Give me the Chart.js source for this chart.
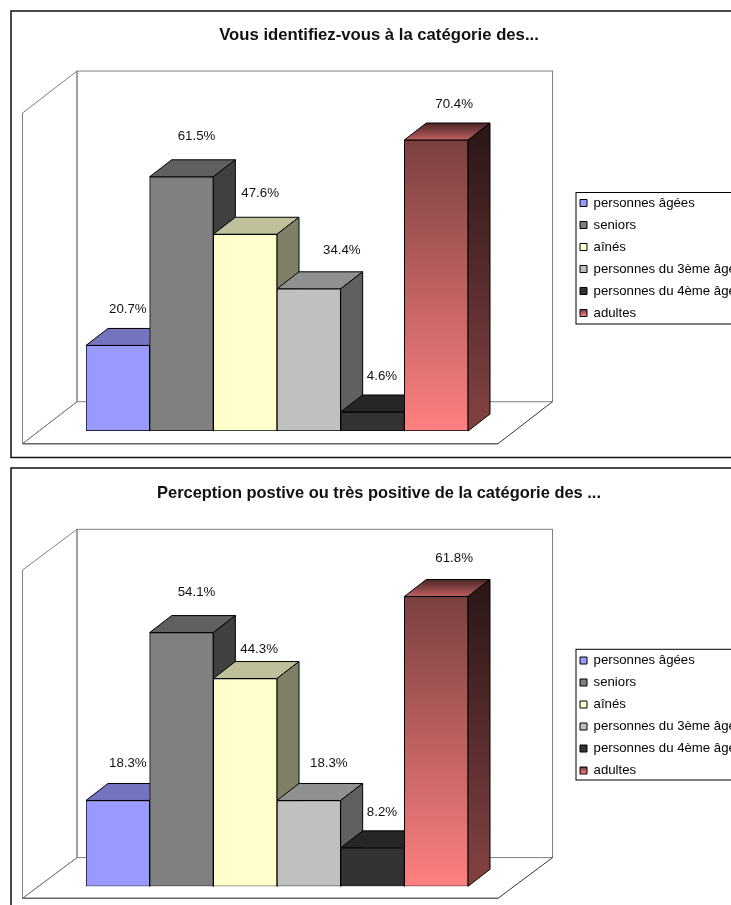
<!DOCTYPE html>
<html lang="fr">
<head>
<meta charset="utf-8">
<title>Catégories d'âge</title>
<script src="https://cdn.jsdelivr.net/npm/chart.js@4/dist/chart.umd.min.js"></script>
<style>
  html, body { margin: 0; padding: 0; background: #fff; width: 731px; height: 905px; overflow: hidden; }
  canvas { position: absolute; left: 0; }
  #identification { top: 0; }
  #perception { top: 462px; }
</style>
</head>
<body>
<canvas id="identification" width="760" height="462"></canvas>
<canvas id="perception" width="760" height="443"></canvas>
<script>
// Survey results
const categories = ['personnes âgées', 'seniors', 'aînés', 'personnes du 3ème âge', 'personnes du 4ème âge', 'adultes'];
const identificationValues = [20.7, 61.5, 47.6, 34.4, 4.6, 70.4];
const perceptionValues = [18.3, 54.1, 44.3, 18.3, 8.2, 61.8];
const identificationTitle = 'Vous identifiez-vous à la catégorie des...';
const perceptionTitle = 'Perception postive ou très positive de la catégorie des ...';

// Face colours per category; a pair is a vertical gradient [upper, lower]
const frontColors = ['#9999FF', '#808080', '#FFFFCC', '#C0C0C0', '#333333', ['#7A4040', '#FF8080']];
const topColors = ['#7373BF', '#606060', '#BFBF99', '#909090', '#262626', ['#4A2626', '#BF6060']];
const sideColors = ['#4D4D80', '#404040', '#808066', '#606060', '#1A1A1A', ['#2A1515', '#804040']];

const FONT = '"Liberation Sans", Arial, sans-serif';

function paint(ctx, color, yUpper, yLower) {
  if (!Array.isArray(color)) return color;
  const g = ctx.createLinearGradient(0, yUpper, 0, yLower);
  g.addColorStop(0, color[0]);
  g.addColorStop(1, color[1]);
  return g;
}

function polygon(ctx, points, fill) {
  ctx.beginPath();
  points.forEach(([x, y], i) => (i ? ctx.lineTo(x, y) : ctx.moveTo(x, y)));
  ctx.closePath();
  if (fill) { ctx.fillStyle = fill; ctx.fill(); }
  ctx.stroke();
}

// Frame, walls, bar depth, value labels and the legend box of a 3D column chart
const columns3d = {
  id: 'columns3d',
  afterLayout(chart, args, o) {
    chart.titleBlock.left = o.frame.left;
    chart.titleBlock.right = o.frame.right;
    const lg = chart.legend;
    const pad = lg.options.labels.padding;
    const rowH = lg.options.labels.font.size;
    const width = lg.width;
    lg.left = o.legendLeft - pad;
    lg.right = lg.left + width;
    lg.top = o.legendFirstRow - rowH / 2 - pad;
    lg.bottom = lg.top + categories.length * (rowH + pad) + pad + 0.01;
  },
  beforeDraw(chart, args, o) {
    const ctx = chart.ctx;
    ctx.save();
    ctx.lineWidth = 1.5;
    ctx.strokeStyle = '#111';
    ctx.strokeRect(o.frame.left, o.frame.top, o.frame.right - o.frame.left, o.frame.bottom - o.frame.top);
    ctx.lineWidth = 1;
    ctx.strokeStyle = '#000';
    ctx.strokeRect(o.legendBox.left, o.legendBox.top, o.legendBox.right - o.legendBox.left, o.legendBox.bottom - o.legendBox.top);
    ctx.restore();
  },
  beforeDatasetsDraw(chart, args, o) {
    const ctx = chart.ctx;
    const a = chart.chartArea;
    const fl = a.left - o.wallLeft, fr = a.right + o.wallRight;
    const fy = a.bottom + o.wallDrop, ty = a.top + o.wallDrop;
    const dx = o.wallDepthX, dy = o.wallDepthY;
    ctx.save();
    ctx.lineWidth = 1;
    ctx.strokeStyle = '#808080';
    // back wall, side wall, floor
    ctx.strokeRect(fl + dx, ty - dy, fr - fl, fy - ty);
    polygon(ctx, [[fl, fy], [fl, ty], [fl + dx, ty - dy], [fl + dx, fy - dy]]);
    ctx.lineWidth = 1.5;
    ctx.strokeStyle = '#666';
    ctx.beginPath(); ctx.moveTo(fl, fy); ctx.lineTo(fr, fy); ctx.stroke();
    ctx.lineWidth = 1;
    ctx.strokeStyle = '#333';
    ctx.beginPath(); ctx.moveTo(fr, fy); ctx.lineTo(fr + dx, fy - dy); ctx.stroke();
    ctx.strokeStyle = '#808080';
    ctx.beginPath(); ctx.moveTo(fl, fy); ctx.lineTo(fl + dx, fy - dy); ctx.stroke();

    // depth faces, painted left to right so later bars overlap earlier ones
    ctx.strokeStyle = '#000';
    ctx.lineJoin = 'round';
    chart.getDatasetMeta(0).data.forEach((bar, i) => {
      const l = bar.x - bar.width / 2, r = bar.x + bar.width / 2;
      const t = bar.y, b = bar.base;
      const x = o.barDepthX, y = o.barDepthY;
      polygon(ctx, [[l, t], [l + x, t - y], [r + x, t - y], [r, t]], paint(ctx, topColors[i], t - y, t));
      polygon(ctx, [[r, t], [r + x, t - y], [r + x, b - y], [r, b]], paint(ctx, sideColors[i], t - y, b - y));
    });
    ctx.restore();
  },
  afterDatasetsDraw(chart, args, o) {
    const ctx = chart.ctx;
    ctx.save();
    ctx.fillStyle = '#111';
    ctx.font = `13.3px ${FONT}`;
    ctx.textAlign = 'center';
    ctx.textBaseline = 'middle';
    const values = chart.data.datasets[0].data;
    chart.getDatasetMeta(0).data.forEach((bar, i) => {
      const [sx, sy] = o.labelShift[i];
      ctx.fillText(values[i].toFixed(1) + '%', bar.x + sx, bar.y + sy);
    });
    ctx.restore();
  }
};

function makeChart(id, title, values, yMax, look) {
  const canvas = document.getElementById(id);
  const width = canvas.width;
  return new Chart(canvas, {
    type: 'bar',
    data: {
      labels: categories,
      datasets: [{
        label: title,
        data: values,
        backgroundColor(c) {
          const y = c.chart.scales.y;
          if (!y || c.dataIndex === undefined) return frontColors[0];
          return paint(c.chart.ctx, frontColors[c.dataIndex], y.getPixelForValue(values[c.dataIndex]), y.getPixelForValue(0));
        },
        borderColor: '#000',
        borderWidth: 1,
        borderSkipped: false,
        categoryPercentage: 1,
        barPercentage: 1
      }]
    },
    options: {
      responsive: false,
      animation: false,
      events: [],
      layout: { padding: { left: look.areaLeft, right: width - look.areaRight, top: 0, bottom: canvas.height - look.areaBottom } },
      scales: {
        x: { display: false },
        y: { display: false, min: 0, max: yMax }
      },
      plugins: {
        tooltip: { enabled: false },
        title: {
          display: true,
          text: title,
          color: '#111',
          font: { family: FONT, size: look.titleSize, weight: 'bold', lineHeight: 1.2 },
          padding: { top: look.titleTop, bottom: look.titleBottom }
        },
        legend: {
          display: true,
          position: 'chartArea',
          labels: {
            color: '#111',
            font: { family: FONT, size: 13.2 },
            boxWidth: 7,
            boxHeight: 7,
            padding: 8.8,
            generateLabels(chart) {
              const row = look.columns.legendFirstRow + (categories.length - 1) * 22;
              return categories.map((text, i) => ({
                text,
                index: i,
                hidden: false,
                fillStyle: paint(chart.ctx, frontColors[i], row - 3, row + 3),
                strokeStyle: '#000',
                lineWidth: 1
              }));
            }
          }
        },
        columns3d: look.columns
      }
    },
    plugins: [columns3d]
  });
}

makeChart('identification', identificationTitle, identificationValues, 80, {
  areaLeft: 86, areaRight: 468, areaBottom: 431,
  titleSize: 16.7, titleTop: 25, titleBottom: 55.3,
  columns: {
    frame: { left: 11, top: 11, right: 747, bottom: 457.5 },
    legendBox: { left: 576, top: 192.5, right: 744, bottom: 324 },
    legendLeft: 580, legendFirstRow: 203,
    wallLeft: 63.5, wallRight: 30, wallDrop: 12.7, wallDepthX: 54.5, wallDepthY: 42,
    barDepthX: 22, barDepthY: 17,
    labelShift: [[10, -36], [15, -40.5], [15, -41], [33, -38], [9.5, -36], [18, -36]]
  }
});

makeChart('perception', perceptionTitle, perceptionValues, 70, {
  areaLeft: 86, areaRight: 468, areaBottom: 424.3,
  titleSize: 16.44, titleTop: 21.8, titleBottom: 54.5,
  columns: {
    frame: { left: 11, top: 6, right: 747, bottom: 452 },
    legendBox: { left: 576, top: 187.3, right: 744, bottom: 318 },
    legendLeft: 580, legendFirstRow: 198.5,
    wallLeft: 63.5, wallRight: 30, wallDrop: 12, wallDepthX: 54.5, wallDepthY: 40.7,
    barDepthX: 22, barDepthY: 17,
    labelShift: [[10, -37], [15, -40], [14, -29], [20, -37], [9.5, -36], [18, -38]]
  }
});
</script>
</body>
</html>
